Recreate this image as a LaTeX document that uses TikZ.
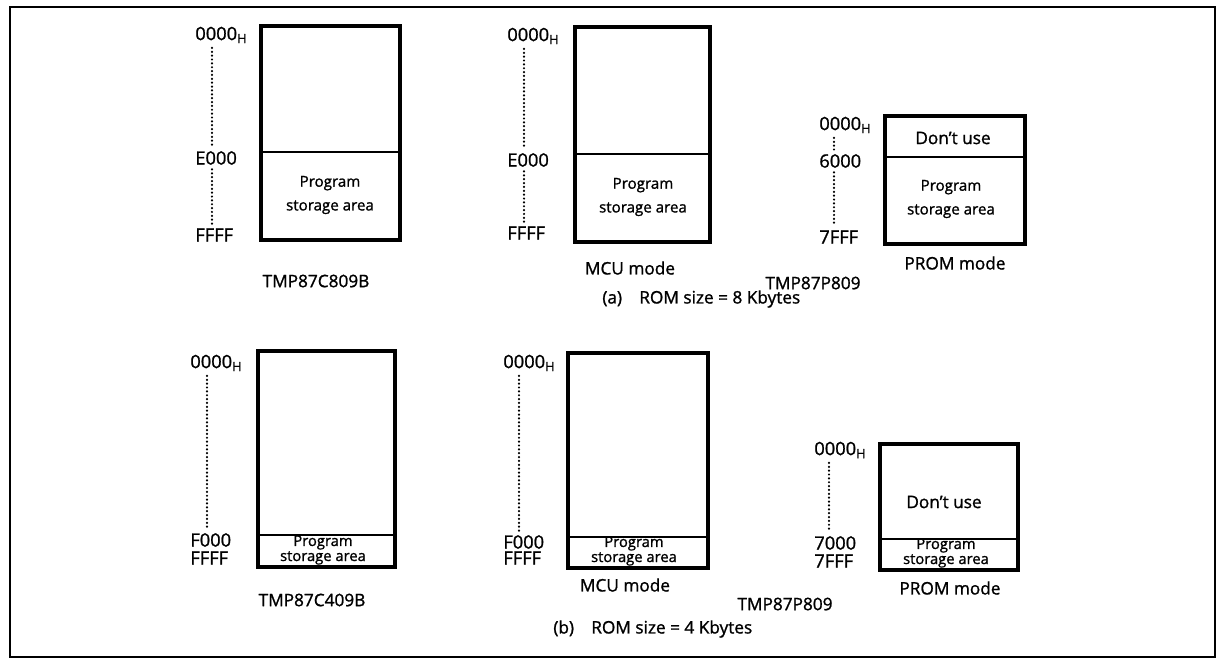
\documentclass[tikz,border=0pt]{standalone}
\usepackage{fontspec}
\setmainfont{Open Sans}[FakeBold=1.2]
\tikzset{
  mapbox/.style={line width=1.8pt},
  divline/.style={line width=0.7pt},
  addr/.style={anchor=west, inner sep=0pt, font=\fontsize{10.4}{12}\selectfont},
  addrdots/.style={line width=1.4pt, line cap=round, dash pattern=on 0pt off 2.2pt,
    shorten <=2.5pt, shorten >=2.5pt},
  lbl/.style={inner sep=0pt, font=\fontsize{9.8}{12}\selectfont},
  area/.style={inner sep=0pt, align=center, font=\fontsize{8.6}{13.5}\selectfont},
  areasmall/.style={inner sep=0pt, align=center, font=\fontsize{8.4}{7.5}\selectfont},
}
\begin{document}
\begin{tikzpicture}[x=0.02cm,y=-0.02cm]
    \useasboundingbox (0,0) rectangle (1221,660);
    % Общая рамка
    \draw[line width=0.9pt] (10,7) rectangle (1215,657);

    % (a) ROM size = 8 Kbytes
    \draw[mapbox] (261,26) rectangle (400,240);
    \draw[divline] (261,152) -- (400,152);
    \node[area] (pa1) at (330,195) {Program\\storage area};
    \node[addr] (a1h) at (195,35) {0000\textsubscript{H}};
    \node[addr] (a1e) at (195,158) {E000};
    \node[addr] (a1f) at (195,235) {FFFF};
    \draw[addrdots] ([xshift=0.34cm]a1h.south west) -- ([xshift=0.34cm]a1e.north west);
    \draw[addrdots] ([xshift=0.34cm]a1e.south west) -- ([xshift=0.34cm]a1f.north west);
    \node[lbl] (n1) at (316,281) {TMP87C809B};

    \draw[mapbox] (575,27) rectangle (710,242);
    \draw[divline] (575,154) -- (710,154);
    \node[area] (pa2) at (643,197) {Program\\storage area};
    \node[addr] (a2h) at (507,36) {0000\textsubscript{H}};
    \node[addr] (a2e) at (507,160) {E000};
    \node[addr] (a2f) at (507,233) {FFFF};
    \draw[addrdots] ([xshift=0.34cm]a2h.south west) -- ([xshift=0.34cm]a2e.north west);
    \draw[addrdots] ([xshift=0.34cm]a2e.south west) -- ([xshift=0.34cm]a2f.north west);
    \node[lbl] (m2) at (630,268) {MCU mode};

    \draw[mapbox] (885,116) rectangle (1025,244);
    \draw[divline] (885,157) -- (1025,157);
    \node[lbl] (du3) at (953,138) {Don't use};
    \node[area] (pa3) at (951,199) {Program\\storage area};
    \node[addr] (a3h) at (819,125) {0000\textsubscript{H}};
    \node[addr] (a3s) at (819,161) {6000};
    \node[addr] (a3f) at (819,237) {7FFF};
    \draw[addrdots] ([xshift=0.3cm]a3h.south west) -- ([xshift=0.3cm]a3s.north west);
    \draw[addrdots] ([xshift=0.3cm]a3s.south west) -- ([xshift=0.3cm]a3f.north west);
    \node[lbl] (m3) at (955,263) {PROM mode};
    \node[lbl] (n3) at (813,283) {TMP87P809};

    \node[lbl, anchor=west] (capa) at (602,299) {(a)\hspace{1em}ROM size = 8 Kbytes};

    % (b) ROM size = 4 Kbytes
    \draw[mapbox] (258,351) rectangle (395,567);
    \draw[divline] (258,535) -- (395,535);
    \node[areasmall] (pb1) at (323,550) {Program\\storage area};
    \node[addr] (b1h) at (190,363) {0000\textsubscript{H}};
    \node[addr] (b1e) at (190,540) {F000};
    \node[addr] (b1f) at (190,558) {FFFF};
    \draw[addrdots] ([xshift=0.34cm]b1h.south west) -- ([xshift=0.34cm]b1e.north west);
    \node[lbl] (n4) at (312,600) {TMP87C409B};

    \draw[mapbox] (568,353) rectangle (708,568);
    \draw[divline] (568,537) -- (708,537);
    \node[areasmall] (pb2) at (634,551) {Program\\storage area};
    \node[addr] (b2h) at (503,363) {0000\textsubscript{H}};
    \node[addr] (b2e) at (503,542) {F000};
    \node[addr] (b2f) at (503,558) {FFFF};
    \draw[addrdots] ([xshift=0.32cm]b2h.south west) -- ([xshift=0.32cm]b2e.north west);
    \node[lbl] (m5) at (625,585) {MCU mode};

    \draw[mapbox] (880,444) rectangle (1018,570);
    \draw[divline] (880,539) -- (1018,539);
    \node[lbl] (du6) at (944,502) {Don't use};
    \node[areasmall] (pb3) at (946,553) {Program\\storage area};
    \node[addr] (b3h) at (814,450) {0000\textsubscript{H}};
    \node[addr] (b3s) at (814,543) {7000};
    \node[addr] (b3f) at (814,561) {7FFF};
    \draw[addrdots] ([xshift=0.3cm]b3h.south west) -- ([xshift=0.3cm]b3s.north west);
    \node[lbl] (m6) at (950,588) {PROM mode};
    \node[lbl] (n6) at (785,604) {TMP87P809};

    \node[lbl, anchor=west] (capb) at (553,629) {(b)\hspace{1em}ROM size = 4 Kbytes};
\end{tikzpicture}
\end{document}
